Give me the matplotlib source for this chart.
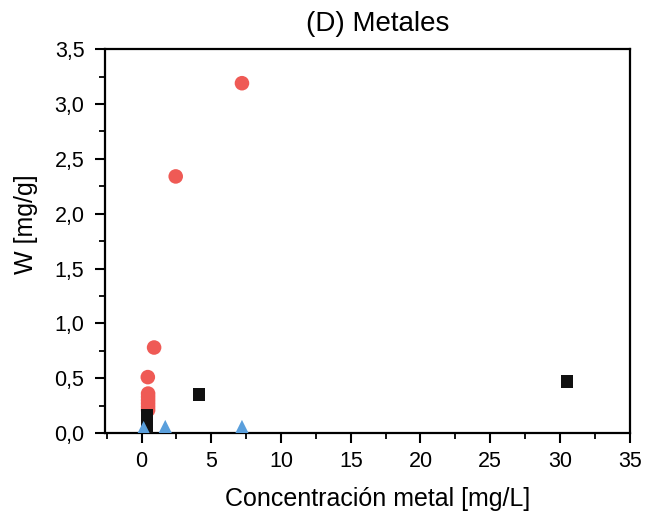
import matplotlib.pyplot as plt
from matplotlib.ticker import MultipleLocator, FuncFormatter

plt.rcParams['font.family'] = ['Liberation Sans', 'DejaVu Sans']

# Adsorbed amount W [mg/g] against metal concentration [mg/L]
red_x = [7.2, 2.45, 0.9, 0.45, 0.47, 0.47, 0.47, 0.47, 0.47, 0.47]
red_y = [3.19, 2.34, 0.78, 0.51, 0.36, 0.33, 0.30, 0.27, 0.24, 0.21]

black_x = [30.5, 4.1, 0.4, 0.4, 0.4, 0.4, 0.4]
black_y = [0.47, 0.35, 0.16, 0.13, 0.10, 0.07, 0.04]

blue_x = [0.15, 1.7, 7.2]
blue_y = [0.03, 0.04, 0.04]

fig = plt.figure(figsize=(6.58, 5.18), dpi=100)
ax = fig.add_axes([0.16, 0.164, 0.797, 0.741])

ax.scatter(red_x, red_y, s=110, marker='o', color='#ef5a55', edgecolors='none', zorder=3)
ax.scatter(black_x, black_y, s=80, marker='s', color='#111111', edgecolors='none', zorder=4)
ax.scatter(blue_x, blue_y, s=160, marker='^', color='#5a9fdc', edgecolors='none', zorder=5)

ax.set_xlim(-2.6, 35)
ax.set_ylim(0, 3.5)

ax.xaxis.set_major_locator(MultipleLocator(5))
ax.xaxis.set_minor_locator(MultipleLocator(2.5))
ax.yaxis.set_major_locator(MultipleLocator(0.5))
ax.yaxis.set_minor_locator(MultipleLocator(0.25))
ax.yaxis.set_major_formatter(FuncFormatter(lambda v, p: f'{v:.1f}'.replace('.', ',')))

ax.tick_params(which='major', direction='out', length=7, width=1.5, labelsize=15.5, pad=6)
ax.tick_params(axis='y', which='major', pad=8)
ax.tick_params(which='minor', direction='out', length=4, width=1.3)
for sp in ax.spines.values():
    sp.set_linewidth(1.6)

ax.set_xlabel('Concentración metal [mg/L]', fontsize=18)
ax.xaxis.set_label_coords(0.52, -0.14)
ax.set_ylabel('W [mg/g]', fontsize=18)
ax.yaxis.set_label_coords(-0.128, 0.545)
ax.set_title('(D) Metales', fontsize=20, pad=13, x=0.52)

fig.savefig('out.png', dpi=100)
